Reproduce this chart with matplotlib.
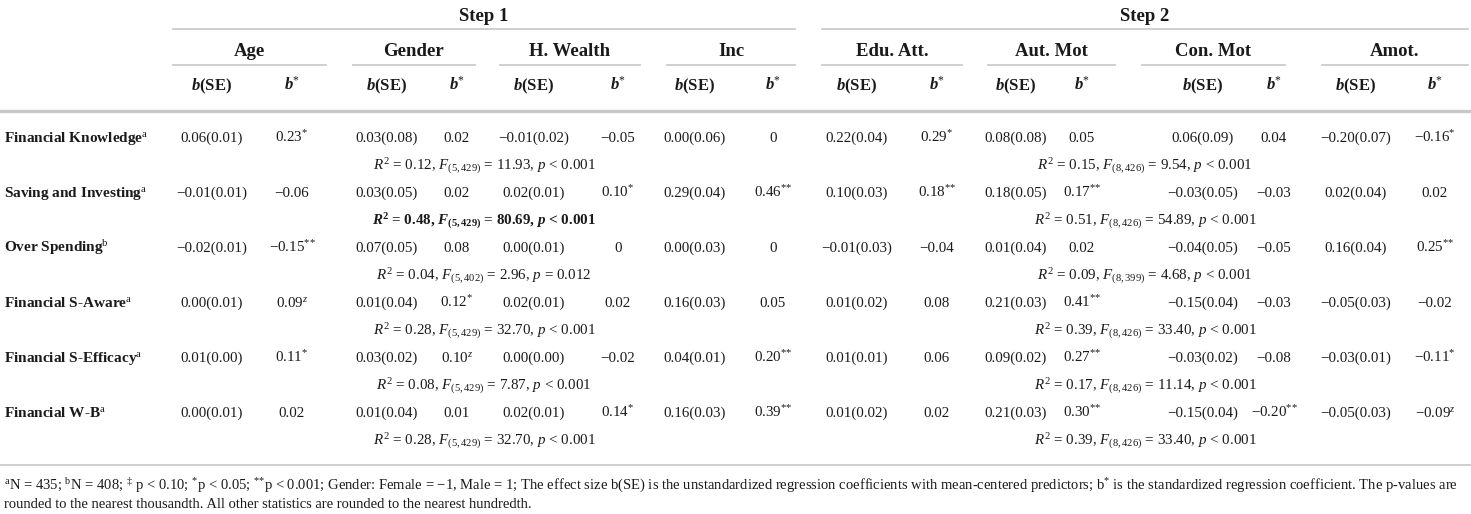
import matplotlib
matplotlib.use("Agg")
from matplotlib import pyplot as plt

plt.rcParams['font.family'] = ['Liberation Serif', 'DejaVu Serif']
plt.rcParams['mathtext.fontset'] = 'custom'
plt.rcParams['mathtext.rm'] = 'Liberation Serif'
plt.rcParams['mathtext.it'] = 'Liberation Serif:italic'
plt.rcParams['mathtext.bf'] = 'Liberation Serif:bold'
plt.rcParams['mathtext.bfit'] = 'Liberation Serif:italic:bold'

# table contents
steps = ['Step 1', 'Step 2']
predictors = ['Age', 'Gender', 'H. Wealth', 'Inc', 'Edu. Att.', 'Aut. Mot', 'Con. Mot', 'Amot.']
outcomes = ['Financial Knowledge', 'Saving and Investing', 'Over Spending',
            'Financial S-Aware', 'Financial S-Efficacy', 'Financial W-B']
outcome_sup = ['a', 'a', 'b', 'a', 'a', 'a']

b_se = [
    ['0.06(0.01)', '0.03(0.08)', '−0.01(0.02)', '0.00(0.06)', '0.22(0.04)', '0.08(0.08)', '0.06(0.09)', '−0.20(0.07)'],
    ['−0.01(0.01)', '0.03(0.05)', '0.02(0.01)', '0.29(0.04)', '0.10(0.03)', '0.18(0.05)', '−0.03(0.05)', '0.02(0.04)'],
    ['−0.02(0.01)', '0.07(0.05)', '0.00(0.01)', '0.00(0.03)', '−0.01(0.03)', '0.01(0.04)', '−0.04(0.05)', '0.16(0.04)'],
    ['0.00(0.01)', '0.01(0.04)', '0.02(0.01)', '0.16(0.03)', '0.01(0.02)', '0.21(0.03)', '−0.15(0.04)', '−0.05(0.03)'],
    ['0.01(0.00)', '0.03(0.02)', '0.00(0.00)', '0.04(0.01)', '0.01(0.01)', '0.09(0.02)', '−0.03(0.02)', '−0.03(0.01)'],
    ['0.00(0.01)', '0.01(0.04)', '0.02(0.01)', '0.16(0.03)', '0.01(0.02)', '0.21(0.03)', '−0.15(0.04)', '−0.05(0.03)'],
]
b_std = [
    ['0.23', '0.02', '−0.05', '0', '0.29', '0.05', '0.04', '−0.16'],
    ['−0.06', '0.02', '0.10', '0.46', '0.18', '0.17', '−0.03', '0.02'],
    ['−0.15', '0.08', '0', '0', '−0.04', '0.02', '−0.05', '0.25'],
    ['0.09', '0.12', '0.02', '0.05', '0.08', '0.41', '−0.03', '−0.02'],
    ['0.11', '0.10', '−0.02', '0.20', '0.06', '0.27', '−0.08', '−0.11'],
    ['0.02', '0.01', '0.14', '0.39', '0.02', '0.30', '−0.20', '−0.09'],
]
b_sig = [
    ['*', '', '', '', '*', '', '', '*'],
    ['', '', '*', '**', '**', '**', '', ''],
    ['**', '', '', '', '', '', '', '**'],
    ['z', '*', '', '', '', '**', '', ''],
    ['*', 'z', '', '**', '', '**', '', '*'],
    ['', '', '*', '**', '', '**', '**', 'z'],
]

# model fit per step: R2, df, F, p
r2_step1 = ['0.12', '0.48', '0.04', '0.28', '0.08', '0.28']
df_step1 = ['5,429', '5,429', '5,402', '5,429', '5,429', '5,429']
f_step1 = ['11.93', '80.69', '2.96', '32.70', '7.87', '32.70']
p_step1 = ['< 0.001', '< 0.001', '= 0.012', '< 0.001', '< 0.001', '< 0.001']
bold_step1 = [False, True, False, False, False, False]

r2_step2 = ['0.15', '0.51', '0.09', '0.39', '0.17', '0.39']
df_step2 = ['8,426', '8,426', '8,399', '8,426', '8,426', '8,426']
f_step2 = ['9.54', '54.89', '4.68', '33.40', '11.14', '33.40']
p_step2 = ['< 0.001', '< 0.001', '< 0.001', '< 0.001', '< 0.001', '< 0.001']

footnote_1 = ('$^{\\mathrm{a}}$N = 435; $^{\\mathrm{b}}$N = 408; $^{‡}$ p < 0.10; $^{*}$p < 0.05; '
              '$^{{*}{*}}$p < 0.001; Gender: Female = −1, Male = 1; The effect size b(SE) is the unstandardized '
              'regression coefficients with mean-centered predictors; b$^{*}$ is the standardized regression '
              'coefficient. The p-values are')
footnote_2 = 'rounded to the nearest thousandth. All other statistics are rounded to the nearest hundredth.'

# layout (pixel coordinates)
group_spans = [(173, 326), (353, 475), (500, 640), (667, 795),
               (822, 962), (988, 1115), (1142, 1285), (1322, 1468)]
step_spans = [(173, 795), (822, 1468)]
col_bse = [212, 387, 534, 695, 857, 1016, 1203, 1356]
col_bst = [292, 457, 618, 773, 937, 1082, 1274, 1435]
row_y0 = 137
row_step = 55

txt = '#1a1a1a'
line_c = '#cccccc'

fig = plt.figure(figsize=(14.71, 5.14), dpi=100)
ax = fig.add_axes([0, 0, 1, 1])
ax.set_xlim(0, 1471)
ax.set_ylim(514, 0)
ax.axis('off')

fs = 10.8
base = 5  # baseline offset from row centre

for (x0, x1), s in zip(step_spans, steps):
    ax.text((x0 + x1) / 2, 15 + 6, s, ha='center', va='baseline', fontsize=13.5, fontweight='bold', color=txt)
    ax.plot([x0, x1], [29, 29], color=line_c, lw=1.3)

for (x0, x1), p in zip(group_spans, predictors):
    ax.text((x0 + x1) / 2, 50 + 6, p, ha='center', va='baseline', fontsize=13.5, fontweight='bold', color=txt)
    ax.plot([x0, x1], [65, 65], color=line_c, lw=1.3)

for xb, xs in zip(col_bse, col_bst):
    ax.text(xb, 85 + 5, '$\\mathbfit{b}$(SE)', ha='center', va='baseline', fontsize=12, fontweight='bold', color=txt)
    ax.text(xs, 85 + 5, '$\\mathbfit{b}^{*}$', ha='center', va='baseline', fontsize=12, color=txt)

ax.plot([0, 1471], [111, 111], color='#c8c8c8', lw=2.4)

for i, name in enumerate(outcomes):
    y = row_y0 + i * row_step
    ax.text(4, y + base, name + '$^{\\mathrm{' + outcome_sup[i] + '}}$', ha='left', va='baseline',
            fontsize=11, fontweight='bold', color=txt)
    for j in range(len(predictors)):
        ax.text(col_bse[j], y + base, b_se[i][j], ha='center', va='baseline', fontsize=fs, color=txt)
        sig = b_sig[i][j]
        if sig == '**':
            sig = '{*}{*}'
        label = b_std[i][j] + ('$^{' + sig + '}$' if sig else '')
        ax.text(col_bst[j], y + base, label, ha='center', va='baseline', fontsize=fs, color=txt)

    yr = y + row_step / 2 + base
    if bold_step1[i]:
        s1 = ('$\\mathbfit{R}^{\\mathbf{2}}$ = ' + r2_step1[i] + ', $\\mathbfit{F}_{\\mathbf{(' + df_step1[i] + ')}}$ = '
              + f_step1[i] + ', $\\mathbfit{p}$ ' + p_step1[i])
        ax.text(484, yr, s1, ha='center', va='baseline', fontsize=fs, fontweight='bold', color=txt)
    else:
        s1 = ('$R^{2}$ = ' + r2_step1[i] + ', $F_{(' + df_step1[i] + ')}$ = '
              + f_step1[i] + ', $p$ ' + p_step1[i])
        ax.text(484, yr, s1, ha='center', va='baseline', fontsize=fs, color=txt)
    s2 = ('$R^{2}$ = ' + r2_step2[i] + ', $F_{(' + df_step2[i] + ')}$ = '
          + f_step2[i] + ', $p$ ' + p_step2[i])
    ax.text(1145, yr, s2, ha='center', va='baseline', fontsize=fs, color=txt)

ax.plot([0, 1471], [465, 465], color=line_c, lw=1.3)
ax.text(4, 485 + 5, footnote_1, ha='left', va='baseline', fontsize=10.5, color=txt)
ax.text(4, 503 + 5, footnote_2, ha='left', va='baseline', fontsize=10.5, color=txt)

fig.savefig('out.png', dpi=100, facecolor='white')
